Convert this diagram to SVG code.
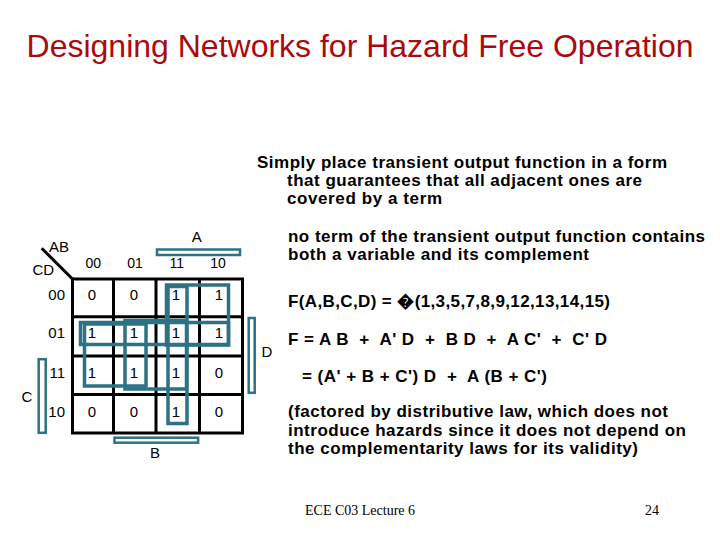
<svg xmlns="http://www.w3.org/2000/svg" width="720" height="540" viewBox="0 0 720 540">
<style>
.t{font-family:"Liberation Sans",Arial,sans-serif;fill:#000}
.k{font-size:15px}
.h{font-size:14px}
.v{font-size:15px;text-anchor:middle}
.b{font-family:"Liberation Sans",Arial,sans-serif;font-weight:bold;font-size:17px;fill:#000}
.grid{fill:none;stroke:#000;stroke-width:3}
.loop{fill:none;stroke:#2C7284;stroke-width:3.5}
.bar{fill:#fff;stroke:#2C7284;stroke-width:2.5}
.foot{font-family:"Liberation Serif","Times New Roman",serif;font-size:14px;fill:#000}
</style>
<rect width="720" height="540" fill="#fff"/>
<text id="title" x="360" y="57" text-anchor="middle" font-family="Liberation Sans,Arial,sans-serif" font-size="32" fill="#AA0A0A">Designing Networks for Hazard Free Operation</text>

<g id="kmap-grid">
<line x1="41.7" y1="248.3" x2="72.5" y2="279" stroke="#000" stroke-width="3"/>
<rect class="grid" x="72.5" y="279" width="170" height="154"/>
<line class="grid" x1="113.5" y1="279" x2="113.5" y2="433"/>
<line class="grid" x1="156" y1="279" x2="156" y2="433"/>
<line class="grid" x1="199.5" y1="279" x2="199.5" y2="433"/>
<line class="grid" x1="72.5" y1="316.7" x2="242.5" y2="316.7"/>
<line class="grid" x1="72.5" y1="356" x2="242.5" y2="356"/>
<line class="grid" x1="72.5" y1="394.5" x2="242.5" y2="394.5"/>
</g>

<g id="kmap-labels">
<text class="t k" x="49" y="252">AB</text>
<text class="t k" x="32.5" y="275">CD</text>
<text class="t h" x="93.3" y="268" text-anchor="middle">00</text>
<text class="t h" x="135" y="268" text-anchor="middle">01</text>
<text class="t h" x="176.7" y="268" text-anchor="middle">11</text>
<text class="t h" x="218" y="268" text-anchor="middle">10</text>
<text class="t k" x="65" y="300" text-anchor="end">00</text>
<text class="t k" x="65" y="338.3" text-anchor="end">01</text>
<text class="t k" x="65" y="378.3" text-anchor="end">11</text>
<text class="t k" x="65" y="416.7" text-anchor="end">10</text>
<text class="t k" x="196.7" y="242.3" text-anchor="middle">A</text>
<text class="t k" x="155" y="458" text-anchor="middle">B</text>
<text class="t k" x="21.5" y="402">C</text>
<text class="t k" x="261.5" y="357">D</text>
</g>

<g id="kmap-values">
<text class="t v" x="92" y="300">0</text><text class="t v" x="134" y="300">0</text><text class="t v" x="176" y="300">1</text><text class="t v" x="219" y="300">1</text>
<text class="t v" x="92" y="338.3">1</text><text class="t v" x="134" y="338.3">1</text><text class="t v" x="176" y="338.3">1</text><text class="t v" x="219" y="338.3">1</text>
<text class="t v" x="92" y="378.3">1</text><text class="t v" x="134" y="378.3">1</text><text class="t v" x="176" y="378.3">1</text><text class="t v" x="219" y="378.3">0</text>
<text class="t v" x="92" y="416.7">0</text><text class="t v" x="134" y="416.7">0</text><text class="t v" x="176" y="416.7">1</text><text class="t v" x="219" y="416.7">0</text>
</g>

<g id="bars">
<rect class="bar" x="157" y="249.5" width="83" height="5.5"/>
<rect class="bar" x="114.5" y="437.7" width="83.6" height="5"/>
<rect class="bar" x="38.7" y="359.2" width="7" height="73.6"/>
<rect class="bar" x="248.7" y="318" width="6" height="74.8"/>
</g>

<g id="loops">
<rect id="loop-CpD" class="loop" x="80.5" y="322.5" width="148" height="22"/>
<rect id="loop-ApD" class="loop" x="84.5" y="324" width="61.5" height="62"/>
<rect id="loop-BD" class="loop" x="125" y="320.5" width="61.5" height="68.5"/>
<rect id="loop-AB" class="loop" x="168" y="286.5" width="19" height="137"/>
<rect id="loop-ACp" class="loop" x="166.5" y="285" width="62" height="60"/>
</g>

<g id="text-block">
<text class="b" x="257" y="167.5" textLength="410">Simply place transient output function in a form</text>
<text class="b" x="287" y="185.5" textLength="355">that guarantees that all adjacent ones are</text>
<text class="b" x="287" y="203.5" textLength="155">covered by a term</text>
<text class="b" x="288" y="242" textLength="417">no term of the transient output function contains</text>
<text class="b" x="288" y="260" textLength="301">both a variable and its complement</text>
<text class="b" x="288" y="307" textLength="322">F(A,B,C,D) = �(1,3,5,7,8,9,12,13,14,15)</text>
<text class="b" x="288" y="345" textLength="319" xml:space="preserve">F = A B  +  A' D  +  B D  +  A C'  +  C' D</text>
<text class="b" x="302" y="382" textLength="245" xml:space="preserve">= (A' + B + C') D  +  A (B + C')</text>
<text class="b" x="288" y="417" textLength="380">(factored by distributive law, which does not</text>
<text class="b" x="288" y="435.5" textLength="398">introduce hazards since it does not depend on</text>
<text class="b" x="288" y="454" textLength="350">the complementarity laws for its validity)</text>
</g>

<g id="footer">
<text class="foot" x="305" y="515">ECE C03 Lecture 6</text>
<text class="foot" x="652" y="515" text-anchor="middle">24</text>
</g>
</svg>
